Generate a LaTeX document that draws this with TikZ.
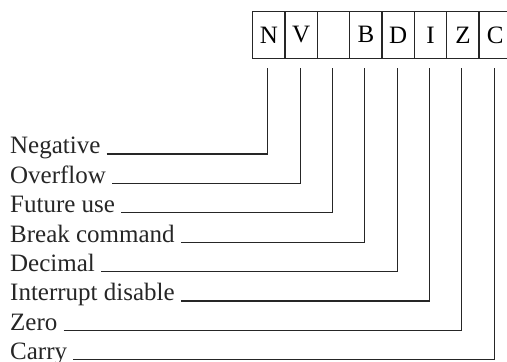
\documentclass[tikz,border=0pt]{standalone}
\usepackage{fontspec}
\setmainfont{Liberation Serif}
\begin{document}
\begin{tikzpicture}[x=1pt,y=1pt,
  ink/.style={draw=black!85},
  bitcell/.style={ink, line width=1.3pt, minimum width=32.35pt, minimum height=47pt,
    inner sep=0pt, anchor=south west, font=\fontsize{25}{25}\selectfont},
  flaglabel/.style={anchor=base west, inner sep=0pt, font=\fontsize{25}{25}\selectfont, text=black!85},
  leader/.style={ink, line width=1.1pt}]
\useasboundingbox (0,0) rectangle (507,362);
% status register cells
\foreach \name/\txt [count=\i from 0] in {n/N,v/V,u/{},b/B,d/D,iq/I,z/Z,c/C}
  \node[bitcell] (\name) at (252+32.35*\i,303) {\txt};
% flag names, one per row
\foreach \name/\txt [count=\i from 0] in {n/Negative,v/Overflow,u/Future use,b/Break command,d/Decimal,iq/Interrupt disable,z/Zero,c/Carry}
  \node[flaglabel] (l\name) at (10,208-29.4*\i) {\txt};
% leaders from each name up to its cell
\foreach \name in {n,v,u,b,d,iq,z,c}
  \draw[leader] ([xshift=6pt]l\name.base east) -| ([xshift=-1pt,yshift=-9pt]\name.south);
\end{tikzpicture}
\end{document}
